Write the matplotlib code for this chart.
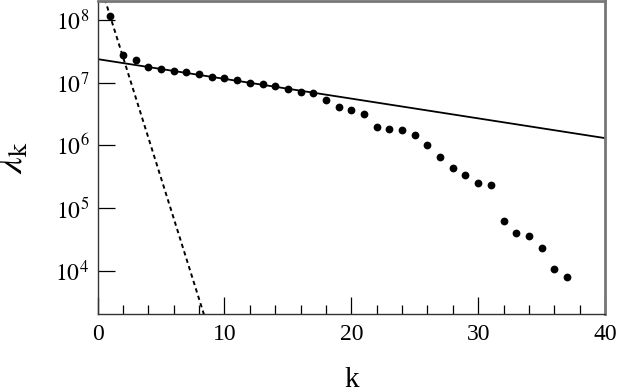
import matplotlib
matplotlib.use("Agg")
import matplotlib.pyplot as plt
from matplotlib.ticker import FixedLocator, MultipleLocator

plt.rcParams['font.family'] = ['Liberation Serif', 'DejaVu Serif']
plt.rcParams['mathtext.fontset'] = 'stix'

# eigenvalues lambda_k
k_values = list(range(1, 38))
lambda_values = [
    1.16e8, 2.77e7, 2.30e7, 1.78e7, 1.65e7, 1.52e7, 1.47e7, 1.36e7, 1.23e7, 1.20e7,
    1.10e7, 1.00e7, 9.5e6, 8.8e6, 7.9e6, 7.1e6, 6.8e6, 5.2e6, 4.1e6, 3.6e6,
    3.2e6, 1.96e6, 1.83e6, 1.78e6, 1.45e6, 1.01e6, 6.5e5, 4.3e5, 3.3e5, 2.53e5,
    2.36e5, 6.2e4, 3.96e4, 3.63e4, 2.29e4, 1.07e4, 8.05e3,
]

# straight-line fits (on log scale), given by their end points
slow_fit_k = [0, 40]
slow_fit_lambda = [2.36e7, 1.30e6]
fast_fit_k = [0, 9]
fast_fit_lambda = [4.9e8, 8.0e2]

x_ticks = [0, 10, 20, 30, 40]
y_ticks = [1e4, 1e5, 1e6, 1e7, 1e8]
y_tick_labels = [r'$10^{4}$', r'$10^{5}$', r'$10^{6}$', r'$10^{7}$', r'$10^{8}$']

fig = plt.figure(figsize=(6.17, 3.90), dpi=100)
ax = fig.add_axes([0.1583, 0.1949, 0.8222, 0.8026])

ax.plot(fast_fit_k, fast_fit_lambda, color='black', lw=1.4, ls=(0, (2.2, 1.8)))
ax.plot(slow_fit_k, slow_fit_lambda, color='black', lw=1.3)
ax.plot(k_values, lambda_values, 'o', color='black', ms=5.6, mec='none')

ax.set_yscale('log')
ax.set_xlim(0, 40)
ax.set_ylim(10 ** 3.31, 10 ** 8.30)

ax.xaxis.set_major_locator(FixedLocator(x_ticks))
ax.xaxis.set_minor_locator(MultipleLocator(2))
ax.yaxis.set_major_locator(FixedLocator(y_ticks))
ax.yaxis.set_minor_locator(FixedLocator([]))
ax.set_yticklabels(y_tick_labels)

ax.tick_params(axis='both', which='major', direction='in', length=12, width=0.9,
               labelsize=17, colors='black', top=False, right=False)
ax.tick_params(axis='x', which='minor', direction='in', length=6.5, width=0.9, top=False)
ax.tick_params(axis='x', pad=7)
ax.tick_params(axis='y', pad=6)

for side in ['left', 'bottom']:
    ax.spines[side].set_color('#333333')
    ax.spines[side].set_linewidth(1.0)
for side in ['top', 'right']:
    ax.spines[side].set_color('#777777')
    ax.spines[side].set_linewidth(2.0)

ax.set_xlabel('k', fontsize=21, labelpad=16)
ax.set_ylabel(r'$\lambda_{\mathrm{k}}$', fontsize=27, labelpad=18)

fig.savefig('out.png', dpi=100)
